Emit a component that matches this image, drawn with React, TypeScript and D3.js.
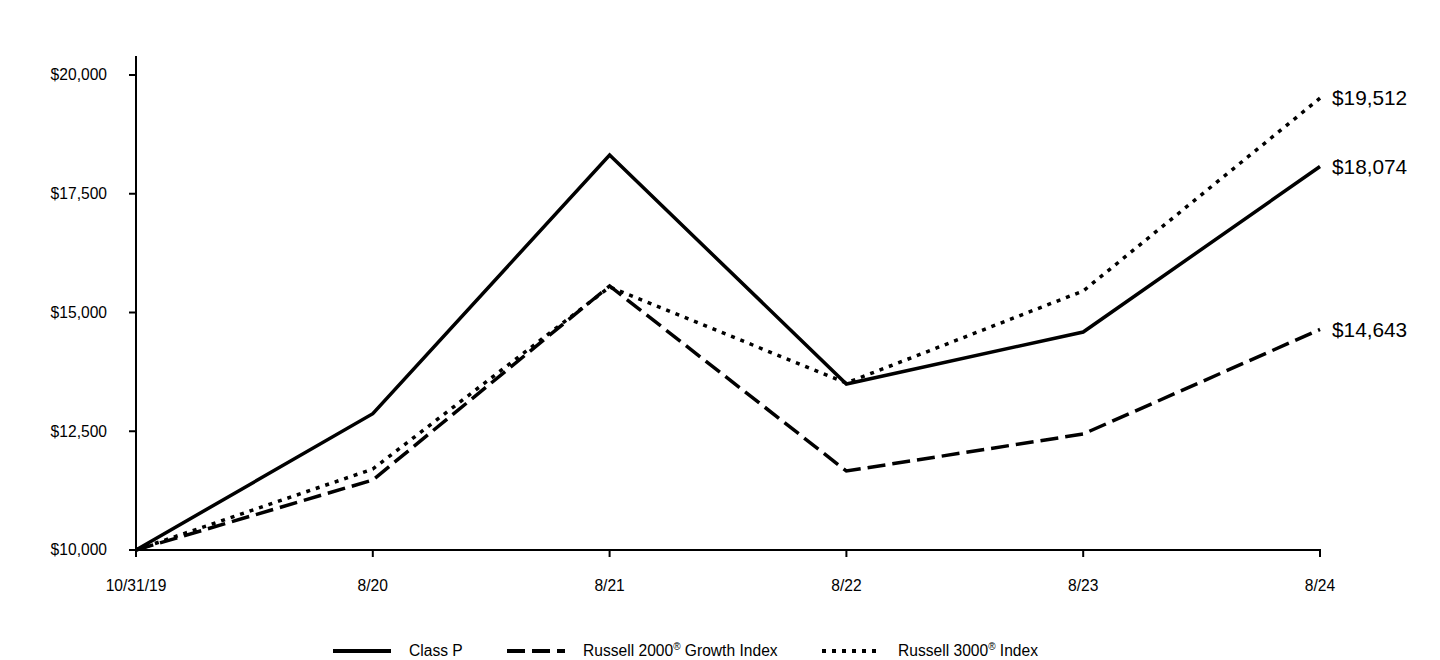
import React from 'react';
import * as d3 from 'd3';

const dates = ['10/31/19', '8/20', '8/21', '8/22', '8/23', '8/24'];
const classP = [10000, 12870, 18316, 13495, 14589, 18074];
const russell2000Growth = [10000, 11474, 15558, 11663, 12442, 14643];
const russell3000 = [10000, 11705, 15537, 13516, 15453, 19512];
const yTicks = [10000, 12500, 15000, 17500, 20000];

const series = [
    {name: 'Class P', sup: '', rest: '', values: classP, dash: null, legendX: 333},
    {name: 'Russell 2000', sup: '®', rest: ' Growth Index', values: russell2000Growth, dash: '18,7', legendX: 507},
    {name: 'Russell 3000', sup: '®', rest: ' Index', values: russell3000, dash: '4,6', legendX: 822},
];

const font = 'Arial, "Liberation Sans", sans-serif';

export default function App() {
    const width = 1440, height = 660;

    const x = d3.scalePoint<string>()
        .domain(dates)
        .range([136, 1320]);
    const y = d3.scaleLinear()
        .domain([10000, 20000])
        .range([550, 75]);

    const line = d3.line<number>()
        .x((d, i) => x(dates[i]) as number)
        .y(d => y(d));

    const fmt = d3.format(',');

    return (
        <svg width={width} height={height}
            style={{position: 'absolute', left: 0, top: 0, background: '#fff'}}
            fontFamily={font}>
            {/* y axis */}
            <line x1={136} x2={136} y1={56} y2={551} stroke='#000' strokeWidth={2}/>
            {yTicks.map(t => (
                <g key={t}>
                    <line x1={129} x2={136} y1={y(t)} y2={y(t)} stroke='#000' strokeWidth={2}/>
                    <text x={107} y={y(t)} dy='0.35em' textAnchor='end' fontSize={15.6}>${fmt(t)}</text>
                </g>
            ))}
            {/* x axis */}
            <line x1={129} x2={1321} y1={550} y2={550} stroke='#000' strokeWidth={2}/>
            {dates.map(d => (
                <g key={d}>
                    <line x1={x(d)} x2={x(d)} y1={550} y2={557} stroke='#000' strokeWidth={2}/>
                    <text x={x(d)} y={591} textAnchor='middle' fontSize={15.6}>{d}</text>
                </g>
            ))}
            {/* lines */}
            {series.map(s => (
                <path key={s.name}
                    d={line(s.values) || ''}
                    fill='none'
                    stroke='#000'
                    strokeWidth={3.5}
                    strokeDasharray={s.dash || undefined}
                    strokeLinejoin='miter'/>
            ))}
            {/* end labels */}
            {series.map(s => (
                <text key={s.name + 'end'} x={1332} y={y(s.values[s.values.length - 1])}
                    dy='0.35em' fontSize={20.8}>${fmt(s.values[s.values.length - 1])}</text>
            ))}
            {/* legend */}
            {series.map(s => (
                <g key={s.name + 'leg'}>
                    <line x1={s.legendX} x2={s.legendX + 58} y1={651} y2={651}
                        stroke='#000' strokeWidth={4}
                        strokeDasharray={s.dash || undefined}/>
                    <text x={s.legendX + 76} y={651} dy='0.35em' fontSize={15.6}>
                        {s.name}
                        {s.sup && <tspan fontSize={10} dy={-6}>{s.sup}</tspan>}
                        {s.rest && <tspan dy={6}>{s.rest}</tspan>}
                    </text>
                </g>
            ))}
        </svg>
    );
}
